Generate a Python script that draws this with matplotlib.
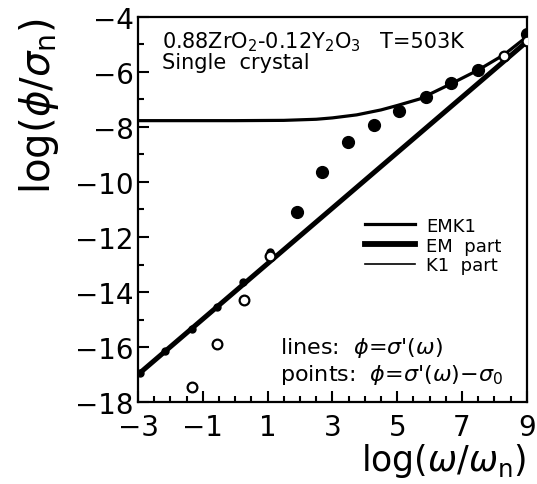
import matplotlib
matplotlib.use('Agg')
import matplotlib.pyplot as plt
from matplotlib.lines import Line2D
from matplotlib.ticker import MultipleLocator, FixedLocator

# ---- data (log10 values) ----
# EMK1 curve: sigma'(omega), flat dc plateau then dispersive rise
emk1_x = [-3.0, 0.0, 1.5, 2.5, 3.0, 3.75, 4.5, 5.0, 5.7, 6.68, 7.5, 8.3, 9.0]
emk1_y = [-7.77, -7.77, -7.76, -7.72, -7.67, -7.56, -7.38, -7.22, -6.98, -6.42, -5.93, -5.37, -4.72]

# EM part: straight power-law line
em_x = [-3.0, 9.0]
em_y = [-17.0, -4.9]

# small filled points lying on the EM line
dots_x = [-2.94, -2.17, -1.34, -0.55, 0.25, 1.07]
dots_y = [-16.95, -16.16, -15.35, -14.53, -13.65, -12.53]

# open circles: sigma'(omega) - sigma_0
open_x = [-1.34, -0.55, 0.28, 1.07, 8.30, 9.02]
open_y = [-17.44, -15.89, -14.29, -12.68, -5.42, -4.88]

# large filled circles
full_x = [1.90, 2.67, 3.49, 4.29, 5.07, 5.88, 6.66, 7.48, 9.02]
full_y = [-11.10, -9.63, -8.56, -7.92, -7.41, -6.90, -6.41, -5.93, -4.62]

xticks = [-3, -1, 1, 3, 5, 7, 9]
yticks = [-18, -16, -14, -12, -10, -8, -6, -4]

plt.rcParams['font.family'] = ['DejaVu Sans']
plt.rcParams['mathtext.fontset'] = 'dejavusans'

fig = plt.figure(figsize=(5.37, 4.85), dpi=100)
ax = fig.add_axes([0.257, 0.169, 0.724, 0.794])

ax.plot(emk1_x, emk1_y, color='black', lw=2.3, solid_capstyle='butt', zorder=2)
ax.plot(em_x, em_y, color='black', lw=3.6, solid_capstyle='butt', zorder=2)
ax.plot(dots_x, dots_y, 'o', color='black', ms=5, zorder=3)
ax.plot(full_x, full_y, 'o', color='black', ms=8.5, zorder=3)
ax.plot(open_x, open_y, 'o', mfc='white', mec='black', mew=1.6, ms=7, zorder=4)

ax.set_xlim(-3, 9)
ax.set_ylim(-18, -4)

ax.xaxis.set_major_locator(FixedLocator(xticks))
ax.xaxis.set_minor_locator(MultipleLocator(0.5))
ax.yaxis.set_major_locator(FixedLocator(yticks))
ax.yaxis.set_minor_locator(MultipleLocator(1))
ax.set_xticklabels(['\u22123', '\u22121', '1', '3', '5', '7', '9'])
ax.set_yticklabels(['\u221218', '\u221216', '\u221214', '\u221212', '\u221210',
                    '\u22128', '\u22126', '\u22124'])

ax.tick_params(which='both', direction='in', top=False, right=False,
               width=1.5, labelsize=21)
ax.tick_params(axis='y', labelsize=20)
ax.tick_params(which='major', length=8)
ax.tick_params(which='minor', length=4)
ax.tick_params(axis='x', which='major', pad=8, labelsize=20)
ax.tick_params(axis='y', which='major', pad=3)
for sp in ax.spines.values():
    sp.set_linewidth(1.6)

ax.set_xlabel(r'log($\omega$/$\omega_\mathrm{n}$)', fontsize=25, labelpad=0,
              loc='right')
ax.set_ylabel(r'log($\phi$/$\sigma_\mathrm{n}$)', fontsize=29, labelpad=10,
              loc='top')

ax.text(0.062, 0.938, r'0.88ZrO$_2$-0.12Y$_2$O$_3$', transform=ax.transAxes,
        fontsize=15, va='center', ha='left')
ax.text(0.622, 0.938, 'T=503K', transform=ax.transAxes,
        fontsize=15, va='center', ha='left')
ax.text(0.062, 0.883, 'Single  crystal', transform=ax.transAxes,
        fontsize=15, va='center', ha='left')
ax.text(0.365, 0.143, r"lines:  $\phi$=$\sigma$'($\omega$)", transform=ax.transAxes,
        fontsize=16, va='center', ha='left')
ax.text(0.365, 0.072, r"points:  $\phi$=$\sigma$'($\omega$)$-\sigma_0$",
        transform=ax.transAxes, fontsize=16, va='center', ha='left')

handles = [Line2D([], [], color='black', lw=2.3),
           Line2D([], [], color='black', lw=4.2),
           Line2D([], [], color='black', lw=1.2)]
ax.legend(handles, ['EMK1', 'EM  part', 'K1  part'], loc='upper left',
          bbox_to_anchor=(0.565, 0.50), frameon=False, fontsize=13,
          handlelength=2.8, handletextpad=0.6, labelspacing=0.1,
          borderaxespad=0)

fig.savefig('out.png', dpi=100)
